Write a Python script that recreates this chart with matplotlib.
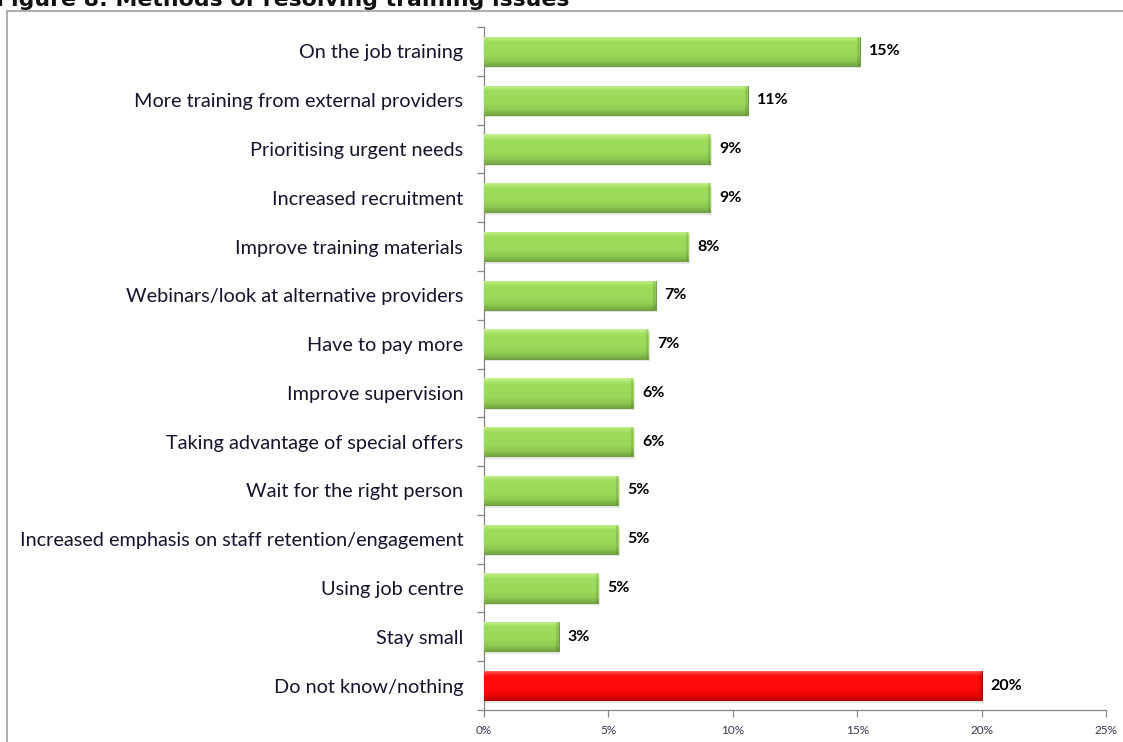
import matplotlib
matplotlib.use('Agg')
import matplotlib.pyplot as plt
import numpy as np
from matplotlib.colors import LinearSegmentedColormap
from matplotlib.patches import Rectangle
from matplotlib.ticker import FixedLocator, PercentFormatter

# Survey responses, top to bottom
categories = [
    'On the job training',
    'More training from external providers',
    'Prioritising urgent needs',
    'Increased recruitment',
    'Improve training materials',
    'Webinars/look at alternative providers',
    'Have to pay more',
    'Improve supervision',
    'Taking advantage of special offers',
    'Wait for the right person',
    'Increased emphasis on staff retention/engagement',
    'Using job centre',
    'Stay small',
    'Do not know/nothing',
]
shares = [15.1, 10.6, 9.1, 9.1, 8.2, 6.9, 6.6, 6.0, 6.0, 5.4, 5.4, 4.6, 3.0, 20.0]
highlight = [False] * 13 + [True]

xticks = [0, 5, 10, 15, 20, 25]

GREEN = LinearSegmentedColormap.from_list(
    'green_bar', [(0.0, '#77a843'), (0.18, '#8fcb52'), (0.4, '#9bd95a'),
                  (0.8, '#9edc5c'), (0.92, '#b2e876'), (1.0, '#cdf29a')])
RED = LinearSegmentedColormap.from_list(
    'red_bar', [(0.0, '#c00000'), (0.18, '#f20606'), (0.4, '#ff0a0a'),
                (0.8, '#ff0c0c'), (0.92, '#ff3a3a'), (1.0, '#ff7a7a')])

fig = plt.figure(figsize=(11.23, 7.42), dpi=100)
ax = fig.add_axes([484 / 1123, 1 - 710 / 742, (1106 - 484) / 1123, (710 - 27) / 742])

n = len(categories)
ypos = np.arange(n)[::-1]

colors = ['#ff0a0a' if h else '#9bd95a' for h in highlight]
edges = ['#a80000' if h else '#6f9a40' for h in highlight]

# soft drop shadow behind each bar
for y, v in zip(ypos, shares):
    ax.add_patch(Rectangle((0.06, y - 0.3 - 0.05), v, 0.6, facecolor='#000000',
                           alpha=0.10, linewidth=0, zorder=2))

bars = ax.barh(ypos, shares, height=0.6, color=colors, edgecolor=edges,
               linewidth=0.7, zorder=3)

grad = np.linspace(0, 1, 64).reshape(-1, 1)
for bar, h in zip(bars, highlight):
    x0, y0 = bar.get_x(), bar.get_y()
    w, hh = bar.get_width(), bar.get_height()
    im = ax.imshow(grad, extent=(x0, x0 + w, y0, y0 + hh), origin='lower',
                   aspect='auto', cmap=RED if h else GREEN, zorder=3.5,
                   interpolation='bilinear')
    im.set_clip_path(bar)
    # bevelled right end
    ax.add_patch(Rectangle((x0 + w - 0.1, y0), 0.1, hh, facecolor='#000000',
                           alpha=0.10, linewidth=0, zorder=3.6))

for y, v in zip(ypos, shares):
    ax.text(v + 0.36, y, f'{v:.0f}%', va='center', ha='left', fontsize=11.5,
            fontweight='bold', family='Lato', color='#000000', zorder=5)

ax.set_xlim(0, 25)
ax.set_ylim(-0.5, n - 0.5)

ax.set_yticks(ypos)
ax.set_yticklabels(categories, family='Lato', fontsize=14.3, color='#14142e')
ax.tick_params(axis='y', which='major', length=0, pad=15)
ax.yaxis.set_minor_locator(FixedLocator(np.arange(-0.5, n, 1.0)))
ax.tick_params(axis='y', which='minor', length=5, width=0.9, color='#868686',
               direction='out')

ax.set_xticks(xticks)
ax.xaxis.set_major_formatter(PercentFormatter(decimals=0))
ax.tick_params(axis='x', length=5, width=0.9, color='#868686', direction='out',
               labelsize=8.5, labelcolor='#3a3450', pad=6)
for lbl in ax.get_xticklabels():
    lbl.set_family('Lato')

for side in ('top', 'right'):
    ax.spines[side].set_visible(False)
for side in ('left', 'bottom'):
    ax.spines[side].set_color('#868686')
    ax.spines[side].set_linewidth(0.9)

# chart frame
fig.patches.append(Rectangle((7 / 1123, -0.05), 1.2, 1.05 - 11 / 742,
                             transform=fig.transFigure, fill=False,
                             edgecolor='#a0a0a0', linewidth=1.2, zorder=0))

fig.text(-0.004, 1.0, 'Figure 8: Methods of resolving training issues',
         fontsize=15.8, fontweight='bold', family='DejaVu Sans', color='#111111',
         ha='left', va='center')

fig.savefig('out.png', dpi=100, facecolor='white')
